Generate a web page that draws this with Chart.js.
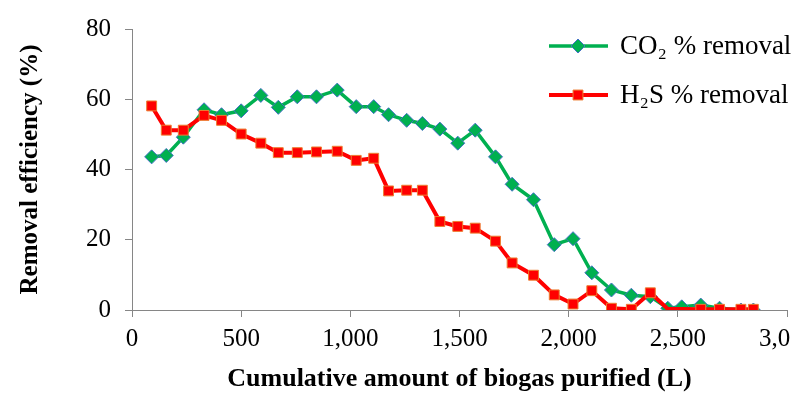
<!DOCTYPE html>
<html>
<head>
<meta charset="utf-8">
<script src="https://cdn.jsdelivr.net/npm/chart.js@4/dist/chart.umd.min.js"></script>
<style>
  body { margin: 0; background: #fff; overflow: hidden; }
  #wrap { position: relative; width: 795px; height: 395px; }
</style>
</head>
<body>
<div id="wrap"><canvas id="removal-chart"></canvas></div>
<script>
// cumulative biogas purified (L), one entry per sample
const biogas_litres = [90, 157, 235, 330, 410, 500, 590, 670, 757, 845, 940, 1027, 1107, 1175, 1258, 1330, 1410, 1492, 1572, 1665, 1741, 1839, 1934, 2020, 2106, 2196, 2287, 2374, 2454, 2518, 2605, 2691, 2789, 2846]
const co2_removal = [43.6, 44, 49.2, 57, 55.6, 56.7, 61.1, 57.7, 60.7, 60.7, 62.6, 57.9, 57.9, 55.6, 54, 53.1, 51.5, 47.5, 51.2, 43.6, 35.8, 31.4, 18.6, 20.3, 10.6, 5.7, 4.2, 3.8, 0.5, 0.9, 1.4, 0.5, 0, 0]
const h2s_removal = [58.1, 51.2, 51.2, 55.4, 54, 50.1, 47.5, 44.8, 44.8, 45, 45.2, 42.6, 43.2, 33.9, 34.1, 34.1, 25.2, 23.8, 23.3, 19.6, 13.4, 9.9, 4.3, 1.7, 5.5, 0.5, 0.2, 4.9, 0.3, 0.3, 0.2, 0.2, 0.2, 0.2]
const series_labels = ['CO\u2082 % removal', 'H\u2082S % removal']
const x_ticks = [0, 500, 1000, 1500, 2000, 2500, 3000]
const y_ticks = [0, 20, 40, 60, 80]

// H2S markers that are not shown in the original (line still bends there)
const h2s_no_marker = [28, 29]

const serif = '"Liberation Serif", "Times New Roman", serif'
const axis_grey = '#868686'

function pairs(values) {
    return biogas_litres.map((x, i) => ({ x: x, y: values[i] }))
}

// legend drawn as line + marker like the spreadsheet one
const line_legend = {
    id: 'lineLegend',
    afterDraw(chart) {
        const ctx = chart.ctx
        chart.data.datasets.forEach((ds, i) => {
            const y = 46 + i * 49
            ctx.save()
            ctx.strokeStyle = ds.borderColor
            ctx.lineWidth = ds.borderWidth
            ctx.beginPath()
            ctx.moveTo(549, y)
            ctx.lineTo(608, y)
            ctx.stroke()
            ctx.fillStyle = ds.pointBackgroundColor
            ctx.strokeStyle = ds.pointBorderColor
            ctx.lineWidth = ds.pointBorderWidth
            Chart.helpers.drawPoint(ctx, { pointStyle: ds.pointStyle, radius: 7, rotation: 0, borderWidth: ds.pointBorderWidth }, 578, y)
            ctx.fillStyle = '#000'
            ctx.font = '27px ' + serif
            ctx.textBaseline = 'middle'
            ctx.fillText(ds.label, 620, y + 1)
            ctx.restore()
        })
    }
}

let data = {
    datasets: [{
        label: series_labels[0],
        data: pairs(co2_removal),
        borderColor: '#00B050',
        borderWidth: 3.5,
        pointStyle: 'rectRot',
        pointRadius: 7,
        pointBackgroundColor: '#00B050',
        pointBorderColor: '#4472C4',
        pointBorderWidth: 1,
        order: 1
    },
    {
        label: series_labels[1],
        data: pairs(h2s_removal),
        borderColor: '#FF0000',
        borderWidth: 4,
        pointStyle: 'rect',
        pointRadius: h2s_removal.map((v, i) => h2s_no_marker.includes(i) ? 0 : 7),
        pointBackgroundColor: '#FF0000',
        pointBorderColor: '#ED7D31',
        pointBorderWidth: 1,
        order: 0
    }]
}

let options = {
    responsive: true,
    maintainAspectRatio: false,
    animation: false,
    events: [],
    layout: { padding: { top: 21, left: 0, right: 0, bottom: 0 } },
    plugins: { legend: { display: false }, tooltip: { enabled: false } },
    scales: {
        x: {
            type: 'linear',
            min: 0,
            max: 3000,
            afterBuildTicks: s => { s.ticks = x_ticks.map(v => ({ value: v })) },
            afterFit: s => { s.height = 85; s.paddingRight = 0; s.paddingLeft = 0 },
            border: { color: axis_grey, width: 1 },
            grid: { drawOnChartArea: false, drawTicks: true, tickLength: 7, color: axis_grey },
            ticks: {
                color: '#000',
                padding: 7,
                maxRotation: 0,
                font: { family: serif, size: 25 },
                callback: v => v.toLocaleString('en-US')
            },
            title: {
                display: true,
                text: 'Cumulative amount of biogas purified (L)',
                color: '#000',
                padding: { top: 2, bottom: 0 },
                font: { family: serif, size: 26, weight: 'bold' }
            }
        },
        y: {
            min: 0,
            max: 80,
            afterBuildTicks: s => { s.ticks = y_ticks.map(v => ({ value: v })) },
            afterFit: s => { s.width = 132 },
            border: { color: axis_grey, width: 1 },
            grid: { drawOnChartArea: false, drawTicks: true, tickLength: 7, color: axis_grey },
            ticks: {
                color: '#000',
                padding: 14,
                font: { family: serif, size: 25 }
            },
            title: {
                display: true,
                text: 'Removal efficiency (%)',
                color: '#000',
                padding: { top: 16, bottom: 0 },
                font: { family: serif, size: 25, weight: 'bold' }
            }
        }
    }
}

let removal_chart = new Chart(document.getElementById('removal-chart'), {
    type: 'line',
    data: data,
    options: options,
    plugins: [line_legend]
})
</script>
</body>
</html>
